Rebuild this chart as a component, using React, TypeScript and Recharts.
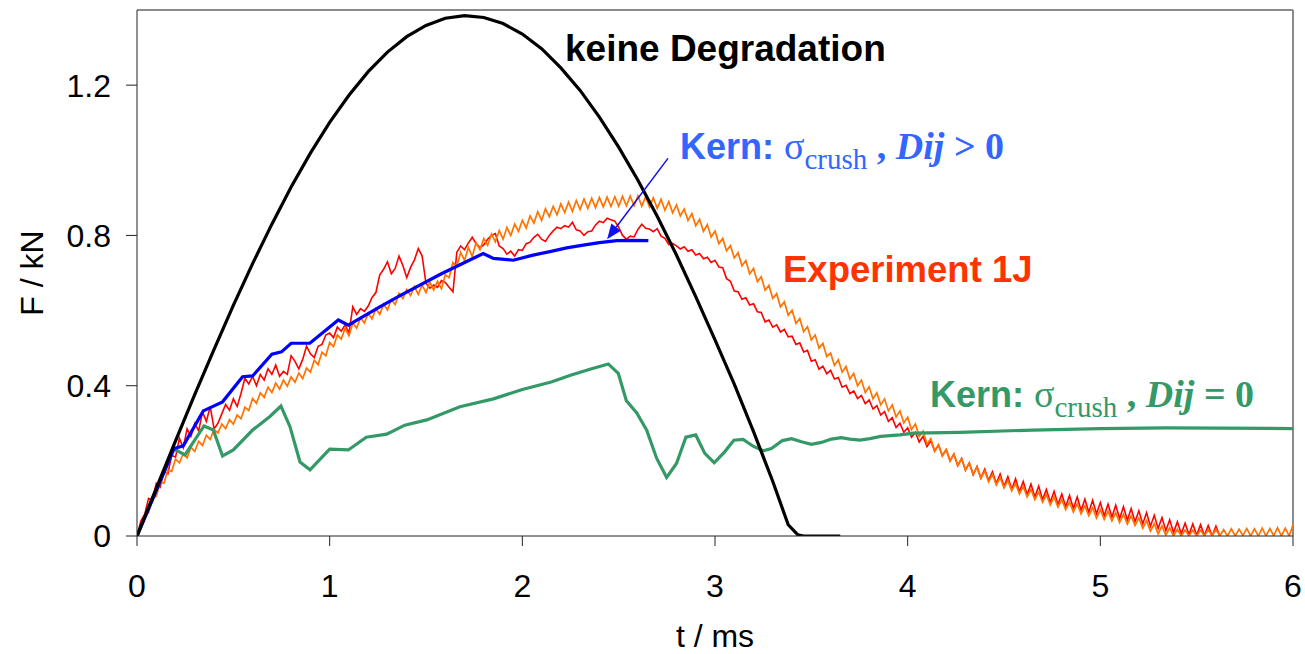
import React from "react";
import { LineChart, Line, XAxis, YAxis, ReferenceLine } from "recharts";

const X_TICKS = [0, 1, 2, 3, 4, 5, 6];
const Y_TICKS = [0, 0.4, 0.8, 1.2];

// experiment 1J, sampled every 0.02 ms
const EXP_STEP = 0.02;
const ORANGE_F = [
  0, 0.02, 0.055, 0.062, 0.1, 0.106, 0.142, 0.141, 0.175, 0.172,
  0.205, 0.195, 0.219, 0.208, 0.236, 0.225, 0.252, 0.241, 0.268, 0.257,
  0.284, 0.274, 0.298, 0.286, 0.31, 0.298, 0.322, 0.312, 0.343, 0.334,
  0.366, 0.353, 0.381, 0.369, 0.396, 0.382, 0.407, 0.391, 0.415, 0.399,
  0.424, 0.409, 0.434, 0.419, 0.447, 0.436, 0.468, 0.456, 0.489, 0.48,
  0.515, 0.504, 0.535, 0.524, 0.553, 0.533, 0.567, 0.553, 0.581, 0.567,
  0.593, 0.578, 0.605, 0.59, 0.617, 0.602, 0.629, 0.616, 0.646, 0.632,
  0.656, 0.64, 0.664, 0.643, 0.668, 0.648, 0.676, 0.655, 0.678, 0.658,
  0.695, 0.688, 0.728, 0.718, 0.755, 0.733, 0.768, 0.744, 0.78, 0.762,
  0.792, 0.774, 0.804, 0.783, 0.813, 0.79, 0.821, 0.8, 0.83, 0.811,
  0.84, 0.82, 0.852, 0.833, 0.863, 0.84, 0.871, 0.85, 0.877, 0.855,
  0.884, 0.861, 0.889, 0.864, 0.893, 0.869, 0.897, 0.872, 0.899, 0.874,
  0.901, 0.876, 0.902, 0.877, 0.903, 0.878, 0.904, 0.879, 0.905, 0.879,
  0.905, 0.878, 0.903, 0.876, 0.9, 0.872, 0.896, 0.867, 0.89, 0.86,
  0.881, 0.852, 0.87, 0.84, 0.858, 0.826, 0.843, 0.811, 0.829, 0.796,
  0.812, 0.778, 0.792, 0.759, 0.773, 0.74, 0.754, 0.719, 0.733, 0.698,
  0.712, 0.677, 0.69, 0.654, 0.667, 0.632, 0.645, 0.61, 0.623, 0.588,
  0.601, 0.566, 0.579, 0.544, 0.557, 0.522, 0.535, 0.5, 0.513, 0.478,
  0.487, 0.454, 0.469, 0.436, 0.451, 0.418, 0.433, 0.4, 0.415, 0.382,
  0.397, 0.365, 0.381, 0.349, 0.365, 0.333, 0.349, 0.317, 0.333, 0.301,
  0.316, 0.283, 0.298, 0.265, 0.279, 0.245, 0.259, 0.226, 0.243, 0.213,
  0.23, 0.2, 0.218, 0.188, 0.206, 0.176, 0.194, 0.165, 0.183, 0.154,
  0.173, 0.144, 0.164, 0.136, 0.156, 0.128, 0.148, 0.12, 0.14, 0.112,
  0.132, 0.104, 0.124, 0.097, 0.117, 0.09, 0.11, 0.083, 0.104, 0.077,
  0.097, 0.07, 0.091, 0.064, 0.086, 0.059, 0.08, 0.054, 0.075, 0.048,
  0.07, 0.044, 0.066, 0.04, 0.062, 0.036, 0.058, 0.032, 0.054, 0.028,
  0.048, 0.021, 0.041, 0.013, 0.033, 0.006, 0.027, 0.002, 0.022, 0,
  0.018, 0, 0.016, 0, 0.015, 0, 0.016, 0, 0.017, 0,
  0.018, 0, 0.017, 0, 0.019, 0, 0.018, 0.001, 0.02, 0,
  0.019, 0, 0.021, 0, 0.02, 0.001, 0.022, 0, 0.021, 0,
  0.03,
];
const RED_F = [
  0, 0.04, 0.058, 0.1, 0.095, 0.14, 0.13, 0.172, 0.165, 0.215,
  0.21, 0.26, 0.235, 0.285, 0.265, 0.3, 0.28, 0.33, 0.305, 0.345,
  0.285, 0.3, 0.325, 0.35, 0.335, 0.365, 0.345, 0.38, 0.42, 0.405,
  0.425, 0.4, 0.43, 0.415, 0.445, 0.43, 0.455, 0.425, 0.438, 0.43,
  0.48, 0.465, 0.445, 0.47, 0.505, 0.485, 0.475, 0.505, 0.51, 0.535,
  0.54, 0.528, 0.556, 0.545, 0.562, 0.54, 0.61, 0.59, 0.605, 0.598,
  0.612, 0.635, 0.648, 0.695, 0.71, 0.73, 0.698, 0.712, 0.745, 0.72,
  0.688, 0.715, 0.735, 0.765, 0.745, 0.672, 0.66, 0.668, 0.662, 0.68,
  0.675, 0.662, 0.65, 0.755, 0.772, 0.762, 0.78, 0.795, 0.778, 0.768,
  0.775, 0.79, 0.8, 0.805, 0.772, 0.765, 0.75, 0.758, 0.745, 0.762,
  0.76, 0.778, 0.782, 0.795, 0.803, 0.79, 0.784, 0.8, 0.812, 0.822,
  0.818, 0.826, 0.822, 0.835, 0.815, 0.812, 0.8, 0.81, 0.812, 0.828,
  0.838, 0.834, 0.846, 0.842, 0.838, 0.822, 0.8, 0.79, 0.798, 0.796,
  0.816, 0.83, 0.819, 0.817, 0.81, 0.818, 0.798, 0.792, 0.776, 0.779,
  0.772, 0.764, 0.77, 0.758, 0.762, 0.748, 0.752, 0.738, 0.742, 0.728,
  0.734, 0.716, 0.714, 0.685, 0.678, 0.652, 0.65, 0.63, 0.634, 0.615,
  0.618, 0.597, 0.595, 0.57, 0.575, 0.556, 0.562, 0.543, 0.55, 0.53,
  0.532, 0.51, 0.514, 0.49, 0.494, 0.465, 0.469, 0.444, 0.452, 0.432,
  0.441, 0.418, 0.422, 0.396, 0.401, 0.379, 0.386, 0.366, 0.374, 0.352,
  0.362, 0.338, 0.347, 0.322, 0.331, 0.305, 0.315, 0.289, 0.3, 0.276,
  0.288, 0.263, 0.276, 0.25, 0.265, 0.238, 0.254, 0.226, 0.242, 0.214,
  0.23, 0.2, 0.218, 0.187, 0.206, 0.175, 0.195, 0.163, 0.185, 0.154,
  0.178, 0.148, 0.171, 0.14, 0.165, 0.132, 0.158, 0.124, 0.152, 0.118,
  0.145, 0.11, 0.138, 0.104, 0.133, 0.097, 0.124, 0.09, 0.119, 0.084,
  0.112, 0.078, 0.108, 0.073, 0.104, 0.068, 0.098, 0.063, 0.095, 0.059,
  0.089, 0.054, 0.085, 0.05, 0.082, 0.046, 0.078, 0.042, 0.073, 0.038,
  0.067, 0.032, 0.062, 0.026, 0.055, 0.02, 0.049, 0.014, 0.043, 0.009,
  0.038, 0.006, 0.034, 0.004, 0.032, 0.002, 0.03, 0.001, 0.028, 0,
  0.026, 0,
];

// keine Degradation
const BLACK_T = [
  0, 0.1, 0.2, 0.3, 0.4, 0.5, 0.6, 0.7, 0.8, 0.9, 1.0, 1.1, 1.2, 1.3, 1.4, 1.5, 1.6, 1.7,
  1.8, 1.9, 2.0, 2.1, 2.2, 2.3, 2.4, 2.5, 2.6, 2.7, 2.8, 2.9, 3.0, 3.1, 3.2, 3.3, 3.38, 3.43, 3.46, 3.65,
];
const BLACK_F = [
  0, 0.127, 0.253, 0.377, 0.497, 0.614, 0.725, 0.83, 0.929, 1.019, 1.101, 1.173, 1.236, 1.288,
  1.329, 1.359, 1.378, 1.385, 1.38, 1.364, 1.336, 1.297, 1.246, 1.186, 1.115, 1.035, 0.947,
  0.851, 0.748, 0.637, 0.522, 0.404, 0.278, 0.145, 0.03, 0.003, 0, 0,
];

// Kern: sigma_crush, Dij > 0
const BLUE_T = [
  0, 0.193, 0.24, 0.344, 0.444, 0.548, 0.6, 0.7, 0.75, 0.8, 0.897, 1.045, 1.097, 1.26, 1.365,
  1.58, 1.797, 1.85, 1.953, 2.05, 2.143, 2.23, 2.316, 2.4, 2.49, 2.57, 2.654,
];
const BLUE_F = [
  0, 0.233, 0.24, 0.333, 0.357, 0.424, 0.426, 0.484, 0.49, 0.513, 0.513, 0.575, 0.561, 0.61,
  0.64, 0.698, 0.752, 0.739, 0.734, 0.747, 0.757, 0.767, 0.774, 0.781, 0.786, 0.787, 0.786,
];

// Kern: sigma_crush, Dij = 0
const GREEN_T = [
  0, 0.19, 0.249, 0.348, 0.396, 0.444, 0.5, 0.6, 0.69, 0.747, 0.794, 0.846, 0.898, 1.0, 1.097,
  1.19, 1.296, 1.39, 1.504, 1.676, 1.85, 2.0, 2.15, 2.25, 2.351, 2.446, 2.498, 2.54, 2.593,
  2.645, 2.697, 2.749, 2.8, 2.849, 2.9, 2.947, 2.996, 3.05, 3.098, 3.146, 3.198, 3.25, 3.293,
  3.35, 3.397, 3.449, 3.5, 3.552, 3.604, 3.656, 3.7, 3.752, 3.804, 3.86, 3.96, 4.03, 4.27,
  4.65, 5.0, 5.34, 6.0,
];
const GREEN_F = [
  0, 0.232, 0.216, 0.293, 0.282, 0.213, 0.229, 0.282, 0.318, 0.346, 0.291, 0.197, 0.176,
  0.231, 0.229, 0.263, 0.271, 0.295, 0.309, 0.344, 0.365, 0.39, 0.41, 0.428, 0.444, 0.458,
  0.433, 0.36, 0.328, 0.282, 0.207, 0.156, 0.193, 0.263, 0.269, 0.22, 0.195, 0.224, 0.255,
  0.257, 0.239, 0.227, 0.233, 0.254, 0.259, 0.251, 0.244, 0.249, 0.258, 0.262, 0.258, 0.255,
  0.259, 0.265, 0.269, 0.274, 0.276, 0.282, 0.286, 0.288, 0.286,
];

// annotation arrow (tail -> head), data coordinates
const ARROW_FROM = { t: 2.756, f: 1.005 };
const ARROW_TO = { t: 2.44, f: 0.79 };

const sampled = (vals: number[]) => vals.map((f, i) => ({ t: +(i * EXP_STEP).toFixed(2), f }));
const paired = (ts: number[], fs: number[]) => ts.map((t, i) => ({ t, f: fs[i] }));

const orangeData = sampled(ORANGE_F);
const redData = sampled(RED_F);
const blackData = paired(BLACK_T, BLACK_F);
const blueData = paired(BLUE_T, BLUE_F);
const greenData = paired(GREEN_T, GREEN_F);

const SANS = "'Liberation Sans', Arial, sans-serif";
const SERIF = "'Liberation Serif', 'Times New Roman', serif";

const Arrow = (p: any) => {
  const { x1, y1, x2, y2 } = p;
  const ang = Math.atan2(y2 - y1, x2 - x1);
  const len = 15;
  const half = 6;
  const bx = x2 - len * Math.cos(ang);
  const by = y2 - len * Math.sin(ang);
  const nx = -Math.sin(ang) * half;
  const ny = Math.cos(ang) * half;
  return (
    <g>
      <line x1={x1} y1={y1} x2={bx} y2={by} stroke="#1010ee" strokeWidth={1.5} />
      <polygon points={`${x2},${y2} ${bx + nx},${by + ny} ${bx - nx},${by - ny}`} fill="#1010ee" />
    </g>
  );
};

export default function App() {
  const tickStyle = { fill: "#000", fontSize: 32, fontFamily: SANS };
  return (
    <div style={{ position: "absolute", left: 0, top: 0, width: 1305, height: 654, background: "#fff" }}>
      <LineChart width={1305} height={654} margin={{ top: 10, right: 12, bottom: 0, left: 0 }}>
        <XAxis
          type="number"
          dataKey="t"
          domain={[0, 6]}
          ticks={X_TICKS}
          height={118}
          tickSize={10}
          tickMargin={28}
          tick={tickStyle}
          stroke="#222"
          allowDataOverflow
        />
        <YAxis
          type="number"
          dataKey="f"
          domain={[0, 1.4]}
          ticks={Y_TICKS}
          width={137}
          tickSize={11}
          tickMargin={15}
          tick={tickStyle}
          stroke="#222"
          allowDataOverflow
        />
        <ReferenceLine y={1.4} stroke="#8a8a8a" strokeWidth={2} />
        <ReferenceLine x={6} stroke="#8a8a8a" strokeWidth={2} />
        <Line data={redData} dataKey="f" type="linear" stroke="#ff0000" strokeWidth={1.6} dot={false} isAnimationActive={false} />
        <Line data={orangeData} dataKey="f" type="linear" stroke="#ff7300" strokeWidth={1.7} dot={false} isAnimationActive={false} />
        <Line data={greenData} dataKey="f" type="linear" stroke="#339966" strokeWidth={3.2} dot={false} isAnimationActive={false} />
        <Line data={blueData} dataKey="f" type="linear" stroke="#0000ff" strokeWidth={3.2} dot={false} isAnimationActive={false} />
        <Line data={blackData} dataKey="f" type="linear" stroke="#000000" strokeWidth={3.2} dot={false} isAnimationActive={false} />
        <ReferenceLine
          segment={[{ x: ARROW_FROM.t, y: ARROW_FROM.f }, { x: ARROW_TO.t, y: ARROW_TO.f }]}
          shape={Arrow}
        />
      </LineChart>
      <svg
        width={1305}
        height={654}
        style={{ position: "absolute", left: 0, top: 0, pointerEvents: "none" }}
      >
        <text x={43} y={273} transform="rotate(-90 43 273)" textAnchor="middle" fontFamily={SANS} fontSize={32} fill="#000">
          F / kN
        </text>
        <text x={715} y={647} textAnchor="middle" fontFamily={SANS} fontSize={32} fill="#000">
          t / ms
        </text>
        <text x={565} y={61} fontFamily={SANS} fontWeight="bold" fontSize={37} fill="#000">
          keine Degradation
        </text>
        <text x={783} y={282} fontFamily={SANS} fontWeight="bold" fontSize={36.5} fill="#ff3300">
          Experiment 1J
        </text>
        <text x={680} y={159} fill="#3366ff">
          <tspan fontFamily={SANS} fontWeight="bold" fontSize={36}>Kern: </tspan>
          <tspan fontFamily={SERIF} fontSize={38}>σ</tspan>
          <tspan fontFamily={SERIF} fontSize={29} dy={10}>crush</tspan>
          <tspan fontFamily={SERIF} fontWeight="bold" fontSize={38} dy={-10}> , </tspan>
          <tspan fontFamily={SERIF} fontWeight="bold" fontStyle="italic" fontSize={38}>Dij</tspan>
          <tspan fontFamily={SERIF} fontWeight="bold" fontSize={38}> &gt; 0</tspan>
        </text>
        <text x={930} y={407} fill="#339966">
          <tspan fontFamily={SANS} fontWeight="bold" fontSize={36}>Kern: </tspan>
          <tspan fontFamily={SERIF} fontSize={38}>σ</tspan>
          <tspan fontFamily={SERIF} fontSize={29} dy={10}>crush</tspan>
          <tspan fontFamily={SERIF} fontWeight="bold" fontSize={38} dy={-10}> , </tspan>
          <tspan fontFamily={SERIF} fontWeight="bold" fontStyle="italic" fontSize={38}>Dij</tspan>
          <tspan fontFamily={SERIF} fontWeight="bold" fontSize={38}> = 0</tspan>
        </text>
      </svg>
    </div>
  );
}
